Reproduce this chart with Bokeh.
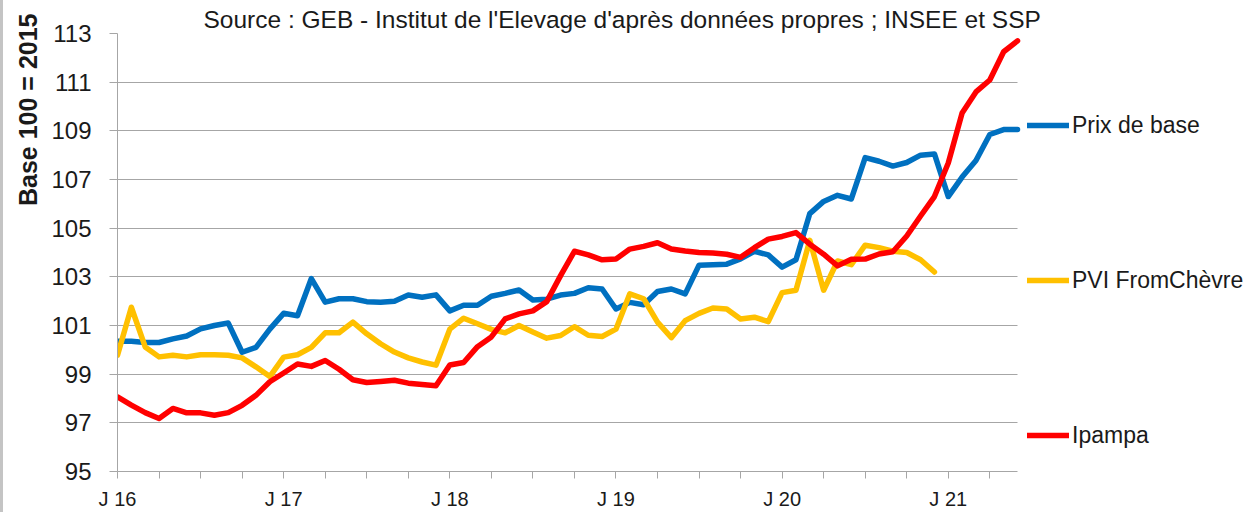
from bokeh.plotting import figure
from bokeh.models import FixedTicker, Legend, LegendItem, Range1d, Title, BoxAnnotation
from bokeh.embed import file_html
from bokeh.resources import INLINE

# ---------------- data (monthly, Jan 2016 -> Jun 2021) ----------------
months = [f"{y}-{m:02d}" for y in range(2016, 2022) for m in range(1, 13)][:66]
year_labels = ["J 16", "J 17", "J 18", "J 19", "J 20", "J 21"]

prix_base = [100.35, 100.35, 100.3, 100.3, 100.45, 100.57, 100.86, 101.0, 101.1, 99.9,
             100.1, 100.85, 101.5, 101.4, 102.93, 101.96, 102.1, 102.1, 101.98, 101.96,
             102.0, 102.25, 102.16, 102.26, 101.6, 101.83, 101.83, 102.2, 102.32, 102.46,
             102.05, 102.08, 102.25, 102.32, 102.55, 102.5, 101.68, 101.95, 101.85, 102.4,
             102.5, 102.3, 103.48, 103.5, 103.52, 103.74, 104.05, 103.9, 103.4, 103.7,
             105.6, 106.1, 106.35, 106.2, 107.9, 107.75, 107.55, 107.7, 108.0, 108.05,
             106.3, 107.1, 107.78, 108.85, 109.05, 109.05]

pvi_fromchevre = [99.78, 101.75, 100.12, 99.71, 99.78, 99.71, 99.8, 99.8, 99.78, 99.67,
                  99.3, 98.9, 99.7, 99.8, 100.1, 100.7, 100.7, 101.14, 100.66, 100.25,
                  99.91, 99.67, 99.5, 99.37, 100.85, 101.3, 101.07, 100.84, 100.7, 101.0,
                  100.73, 100.48, 100.59, 100.95, 100.6, 100.55, 100.85, 102.3, 102.1, 101.14,
                  100.5, 101.2, 101.5, 101.72, 101.68, 101.27, 101.34, 101.16, 102.35, 102.45,
                  104.5, 102.45, 103.65, 103.5, 104.3, 104.2, 104.05, 104.0, 103.7, 103.2]

ipampa = [98.07, 97.73, 97.42, 97.18, 97.59, 97.41, 97.41, 97.31, 97.42, 97.72,
          98.13, 98.69, 99.05, 99.42, 99.32, 99.56, 99.2, 98.77, 98.66, 98.7,
          98.75, 98.63, 98.58, 98.52, 99.38, 99.48, 100.13, 100.53, 101.27, 101.48,
          101.6, 101.98, 103.05, 104.05, 103.9, 103.7, 103.73, 104.14, 104.25, 104.4,
          104.14, 104.06, 104.0, 103.98, 103.93, 103.8, 104.2, 104.55, 104.66, 104.82,
          104.34, 103.93, 103.45, 103.72, 103.73, 103.94, 104.03, 104.68, 105.5, 106.3,
          107.68, 109.73, 110.6, 111.09, 112.25, 112.7]

y_ticks = [95, 97, 99, 101, 103, 105, 107, 109, 111, 113]
title_text = "Source : GEB - Institut de l'Elevage d'après données propres ; INSEE et SSP"
y_title = "Base 100 = 2015"

# ---------------- layout ----------------
BORDER = 3                                 # grey frame line at the left edge
W, H = 1247 - BORDER, 512
FL, FR, FT, FB = 117 - BORDER, 1017 - BORDER, 33, 473   # plot area (canvas pixels)
X0, X1 = 0, len(months) - 1
Y0, Y1 = 95, 113
# the frame is stretched to the right edge so the legend can sit beside the curves
XMAX = X1 + (W - FR) * (X1 - X0) / (FR - FL)

FONT = "Liberation Sans, Arial, sans-serif"
TXT = "#1a1a1a"
GRID = "#a6a6a6"

p = figure(width=W, height=H, x_range=Range1d(X0, XMAX), y_range=Range1d(Y0, Y1),
           output_backend="svg", toolbar_location=None,
           min_border_left=FL, min_border_right=0,
           min_border_top=FT, min_border_bottom=H - FB)
p.styles = {"border-left": f"{BORDER}px solid #c4c4c4"}
p.outline_line_color = None
p.background_fill_color = "white"
p.border_fill_color = "white"

# title (the reference shows it partly above the picture)
p.title.text = title_text
p.title.align = "left"
p.title.offset = 86
p.title.standoff = 2
p.title.text_font = FONT
p.title.text_font_style = "normal"
p.title.text_font_size = "24.5px"
p.title.text_color = TXT

x = list(range(len(months)))

# x axis
xt = list(range(0, X1, 3))
p.xaxis.ticker = FixedTicker(ticks=xt)
p.xaxis.bounds = (X0, X1)
overrides = {t: "" for t in xt}
for i, lab in enumerate(year_labels):
    overrides[i * 12] = lab
p.xaxis.major_label_overrides = overrides
p.xaxis.axis_line_color = GRID
p.xaxis.major_tick_line_color = GRID
p.xaxis.major_tick_out = 7
p.xaxis.major_tick_in = 0
p.xaxis.minor_tick_line_color = None
p.xaxis.major_label_text_font = FONT
p.xaxis.major_label_text_font_size = "20px"
p.xaxis.major_label_text_color = TXT
p.xaxis.major_label_standoff = 9
p.xgrid.visible = False

# y axis
p.yaxis.ticker = FixedTicker(ticks=y_ticks)
p.yaxis.axis_line_color = GRID
p.yaxis.major_tick_line_color = GRID
p.yaxis.major_tick_out = 8
p.yaxis.major_tick_in = 0
p.yaxis.minor_tick_line_color = None
p.yaxis.major_label_text_font = FONT
p.yaxis.major_label_text_font_size = "24px"
p.yaxis.major_label_text_color = TXT
p.yaxis.major_label_standoff = 18
p.ygrid.grid_line_color = GRID
p.ygrid.grid_line_width = 1.2

# grid lines stop where the data period ends
p.add_layout(BoxAnnotation(left=X1, fill_color="white", fill_alpha=1.0,
                           line_alpha=0, level="underlay"))

# y title, placed high on the left like the reference
p.add_layout(Title(text=y_title, align="right", offset=-20, vertical_align="middle",
                   standoff=12, text_font=FONT, text_font_style="bold",
                   text_font_size="25px", text_color=TXT), "left")

# series
lw = 5.5
r_blue = p.line(x, prix_base, line_color="#0070c0", line_width=lw,
                line_join="round", line_cap="round")
r_yel = p.line(x[:len(pvi_fromchevre)], pvi_fromchevre, line_color="#ffc000", line_width=lw,
               line_join="round", line_cap="round")
r_red = p.line(x, ipampa, line_color="#ff0000", line_width=lw,
               line_join="round", line_cap="round")

legend = Legend(items=[LegendItem(label="Prix de base", renderers=[r_blue]),
                       LegendItem(label="PVI FromChèvre", renderers=[r_yel]),
                       LegendItem(label="Ipampa", renderers=[r_red])],
                location=(FR + 10 - FL, 16), orientation="vertical",
                glyph_width=42, glyph_height=40, label_height=40,
                label_standoff=3, spacing=115, padding=0, margin=0,
                border_line_color=None, background_fill_alpha=0,
                label_text_font=FONT, label_text_font_size="23px",
                label_text_color=TXT, label_text_baseline="middle")
p.add_layout(legend)

open("out.html", "w").write(file_html(p, INLINE))
